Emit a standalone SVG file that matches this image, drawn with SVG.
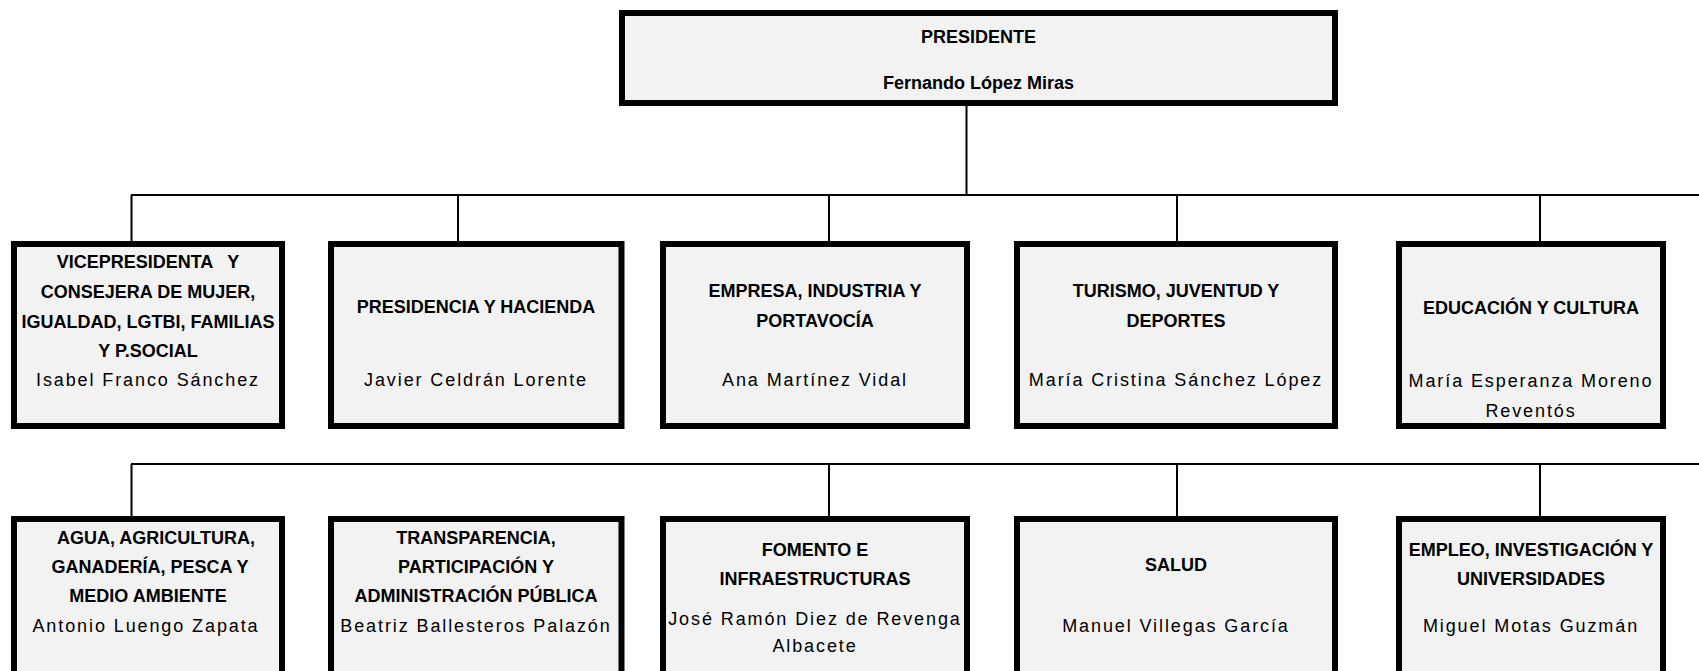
<svg xmlns="http://www.w3.org/2000/svg" width="1699" height="671" viewBox="0 0 1699 671">
<style>
.box{fill:#f2f2f2;stroke:#000;stroke-width:6}
.ln{stroke:#000;stroke-width:2;fill:none}
text{font-family:"Liberation Sans",Arial,sans-serif;font-size:18px;fill:#000;text-anchor:middle}
.t{font-weight:bold}
.n{letter-spacing:1.9px}
</style>
<rect width="1699" height="671" fill="#fff"/>
<g id="connectors">
<path class="ln" d="M966.5 105V195M131 195H1699M131.5 195V241M458 195V241M829 195V241M1177 195V241M1540 195V241"/>
<path class="ln" d="M131 464H1699M131.5 464V516M829 464V516M1177 464V516M1540 464V516"/>
</g>
<g id="presidente">
<rect class="box" x="622" y="13" width="713" height="90"/>
<text class="t" x="978.5" y="43">PRESIDENTE</text>
<text class="t" x="978.5" y="89">Fernando López Miras</text>
</g>
<g id="vicepresidenta">
<rect class="box" x="14" y="244" width="268" height="182"/>
<text class="t" x="148" y="268" xml:space="preserve">VICEPRESIDENTA   Y</text>
<text class="t" x="148" y="298">CONSEJERA DE MUJER,</text>
<text class="t" x="148" y="328">IGUALDAD, LGTBI, FAMILIAS</text>
<text class="t" x="148" y="357">Y P.SOCIAL</text>
<text class="n" x="148" y="386">Isabel Franco Sánchez</text>
</g>
<g id="presidencia">
<rect class="box" x="331" y="244" width="290.5" height="182"/>
<text class="t" x="476" y="313">PRESIDENCIA Y HACIENDA</text>
<text class="n" x="476" y="386">Javier Celdrán Lorente</text>
</g>
<g id="empresa">
<rect class="box" x="663" y="244" width="304" height="182"/>
<text class="t" x="815" y="297">EMPRESA, INDUSTRIA Y</text>
<text class="t" x="815" y="327">PORTAVOCÍA</text>
<text class="n" x="815" y="386">Ana Martínez Vidal</text>
</g>
<g id="turismo">
<rect class="box" x="1017" y="244" width="318" height="182"/>
<text class="t" x="1176" y="297">TURISMO, JUVENTUD Y</text>
<text class="t" x="1176" y="327">DEPORTES</text>
<text class="n" x="1176" y="386">María Cristina Sánchez López</text>
</g>
<g id="educacion">
<rect class="box" x="1399" y="244" width="264" height="182"/>
<text class="t" x="1531" y="314">EDUCACIÓN Y CULTURA</text>
<text class="n" x="1531" y="387">María Esperanza Moreno</text>
<text class="n" x="1531" y="417">Reventós</text>
</g>
<g id="agua">
<rect class="box" x="14" y="519" width="268" height="200"/>
<text class="t" x="156" y="544">AGUA, AGRICULTURA,</text>
<text class="t" x="150" y="573">GANADERÍA, PESCA Y</text>
<text class="t" x="148" y="602">MEDIO AMBIENTE</text>
<text class="n" x="146" y="632">Antonio Luengo Zapata</text>
</g>
<g id="transparencia">
<rect class="box" x="331" y="519" width="290.5" height="200"/>
<text class="t" x="476" y="544">TRANSPARENCIA,</text>
<text class="t" x="476" y="573">PARTICIPACIÓN Y</text>
<text class="t" x="476" y="602">ADMINISTRACIÓN PÚBLICA</text>
<text class="n" x="476" y="632">Beatriz Ballesteros Palazón</text>
</g>
<g id="fomento">
<rect class="box" x="663" y="519" width="304" height="200"/>
<text class="t" x="815" y="556">FOMENTO E</text>
<text class="t" x="815" y="585">INFRAESTRUCTURAS</text>
<text class="n" x="815" y="625">José Ramón Diez de Revenga</text>
<text class="n" x="815" y="652">Albacete</text>
</g>
<g id="salud">
<rect class="box" x="1017" y="519" width="318" height="200"/>
<text class="t" x="1176" y="571">SALUD</text>
<text class="n" x="1176" y="632">Manuel Villegas García</text>
</g>
<g id="empleo">
<rect class="box" x="1399" y="519" width="264" height="200"/>
<text class="t" x="1531" y="556">EMPLEO, INVESTIGACIÓN Y</text>
<text class="t" x="1531" y="585">UNIVERSIDADES</text>
<text class="n" x="1531" y="632">Miguel Motas Guzmán</text>
</g>
</svg>
